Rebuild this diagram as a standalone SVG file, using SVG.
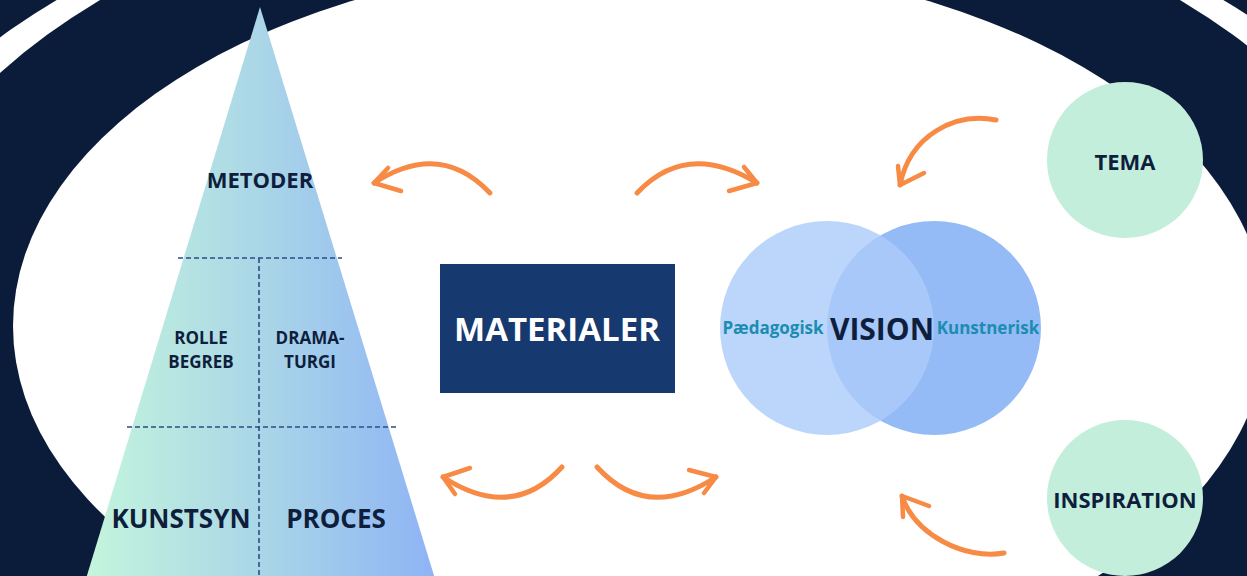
<svg xmlns="http://www.w3.org/2000/svg" width="1247" height="576" viewBox="0 0 1247 576">
<defs>
<linearGradient id="tri" gradientUnits="userSpaceOnUse" x1="87" y1="0" x2="433" y2="0">
<stop offset="0" stop-color="#c4f5dc"/>
<stop offset="0.5" stop-color="#aad6e7"/>
<stop offset="1" stop-color="#8fb4f5"/>
</linearGradient>
<style>
.t{font-family:"Open Sans","DejaVu Sans",sans-serif;font-weight:700;text-anchor:middle;fill:#0e1e3c}
.dash{stroke:#2b4c86;stroke-width:1.6;stroke-dasharray:5 3;fill:none}
.arr{stroke:#f78b45;stroke-width:5;stroke-linecap:round;stroke-linejoin:round;fill:none}
.head{stroke:#f78b45;stroke-width:4.5;stroke-linecap:round;fill:none}
.sub{font-family:"Open Sans","DejaVu Sans",sans-serif;font-weight:700;text-anchor:middle;fill:#1b8cb2;font-size:17px}
</style>
</defs>
<g id="background">
<rect x="0" y="0" width="1247" height="576" fill="#0b1b3a"/>
<ellipse cx="640" cy="326" rx="813" ry="468" fill="#ffffff"/>
<ellipse cx="640" cy="326" rx="767" ry="459" fill="#0b1b3a"/>
<ellipse cx="640" cy="326" rx="627" ry="366" fill="#ffffff"/>
</g>
<g id="pyramid">
<polygon points="260,7 85,582 436,582" fill="url(#tri)"/>
<line class="dash" x1="178" y1="258" x2="342" y2="258"/>
<line class="dash" x1="127" y1="427" x2="397" y2="427"/>
<line class="dash" x1="259" y1="258" x2="259" y2="576"/>
<text class="t" x="260" y="188" font-size="22">METODER</text>
<text class="t" x="201" y="344" font-size="17">ROLLE</text>
<text class="t" x="201" y="368" font-size="17">BEGREB</text>
<text class="t" x="310" y="344" font-size="17">DRAMA-</text>
<text class="t" x="310" y="368" font-size="17">TURGI</text>
<text class="t" x="181" y="528" font-size="26">KUNSTSYN</text>
<text class="t" x="336" y="528" font-size="26">PROCES</text>
</g>
<g id="materialer">
<rect x="440" y="264" width="235" height="129" fill="#163a6f"/>
<text class="t" x="557" y="341" font-size="33" style="fill:#ffffff">MATERIALER</text>
</g>
<g id="vision">
<circle cx="934" cy="328" r="107" fill="#94bbf6"/>
<circle cx="827" cy="328" r="107" fill="#abccfa" fill-opacity="0.8"/>
<text class="t" x="882" y="340" font-size="30">VISION</text>
<text class="sub" x="773" y="334">Pædagogisk</text>
<text class="sub" x="988" y="334">Kunstnerisk</text>
</g>
<g id="tema">
<circle cx="1125" cy="160" r="78" fill="#c2eedb"/>
<text class="t" x="1125" y="170" font-size="22">TEMA</text>
</g>
<g id="inspiration">
<circle cx="1125" cy="498" r="78" fill="#c2eedb"/>
<text class="t" x="1125" y="508" font-size="22">INSPIRATION</text>
</g>
<g id="connectors">
<path class="arr" d="M490,193 Q440,140 374,183"/>
<path class="head" d="M374,183 L388,168 M374,183 L401,191"/>
<path class="arr" d="M637,193 Q687,140 757,183"/>
<path class="head" d="M757,183 L744,167 M757,183 L729,191"/>
<path class="arr" d="M562,467 Q512,522 443,477"/>
<path class="head" d="M443,477 L470,468 M443,477 L455,494"/>
<path class="arr" d="M597,467 Q647,522 716,477"/>
<path class="head" d="M716,477 L689,470 M716,477 L704,493"/>
<path class="arr" d="M996,120 C955,112 910,135 900,185"/>
<path class="head" d="M900,185 L898,166 M900,185 L924,173"/>
<path class="arr" d="M1004,553 C965,560 915,535 902,496"/>
<path class="head" d="M902,496 L903,517 M902,496 L929,506"/>
</g>
</svg>
